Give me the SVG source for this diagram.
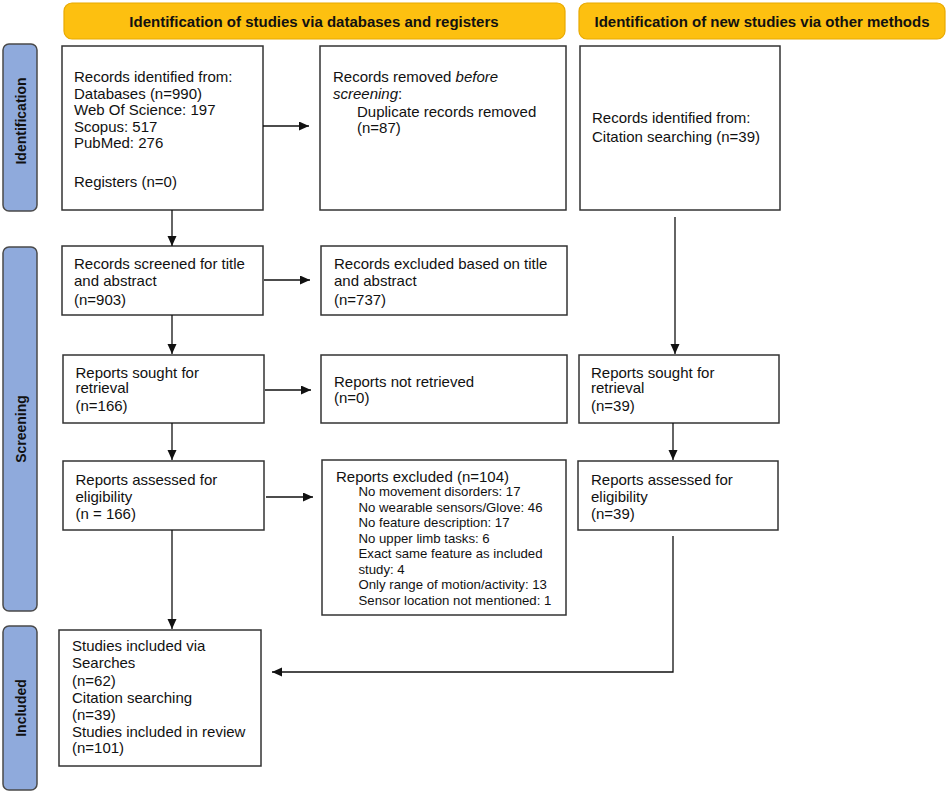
<svg xmlns="http://www.w3.org/2000/svg" width="948" height="792" viewBox="0 0 948 792">
<style>
.hdr{fill:#FDC010;stroke:#E8A900;stroke-width:1.2}
.side{fill:#8FAADC;stroke:#4A4A4A;stroke-width:1.5}
.box{fill:#FFFFFF;stroke:#333333;stroke-width:1.5}
.ht{font-family:"Liberation Sans",Arial,sans-serif;font-size:15px;font-weight:bold;fill:#111;text-anchor:middle}
.st{font-family:"Liberation Sans",Arial,sans-serif;font-size:14px;font-weight:bold;fill:#111;text-anchor:middle}
.t{font-family:"Liberation Sans",Arial,sans-serif;font-size:15px;fill:#111}
.s{font-family:"Liberation Sans",Arial,sans-serif;font-size:13.2px;fill:#111}
.c{fill:none;stroke:#111;stroke-width:1.3}
</style>
<defs>
<marker id="ah" markerUnits="userSpaceOnUse" markerWidth="11" markerHeight="10" refX="10" refY="4.5" orient="auto">
<path d="M0,0 L10,4.5 L0,9 z" fill="#111"/>
</marker>
</defs>
<rect width="948" height="792" fill="#FFFFFF"/>

<g id="header-databases">
<rect class="hdr" x="64" y="3" width="501" height="36" rx="8"/>
<text class="ht" x="314" y="27">Identification of studies via databases and registers</text>
</g>
<g id="header-other">
<rect class="hdr" x="579" y="3" width="366" height="36" rx="8"/>
<text class="ht" x="762" y="27">Identification of new studies via other methods</text>
</g>

<g id="phase-identification">
<rect class="side" x="3" y="44" width="34" height="167" rx="6"/>
<text class="st" transform="translate(26,121) rotate(-90)">Identification</text>
</g>
<g id="phase-screening">
<rect class="side" x="3" y="247" width="34" height="364" rx="6"/>
<text class="st" transform="translate(26,429) rotate(-90)">Screening</text>
</g>
<g id="phase-included">
<rect class="side" x="3" y="626" width="34" height="164" rx="6"/>
<text class="st" transform="translate(26,708) rotate(-90)">Included</text>
</g>

<g id="records-identified">
<rect class="box" x="62" y="46" width="201" height="164"/>
<text class="t" x="74" y="82">Records identified from:</text>
<text class="t" x="74" y="98.5">Databases (n=990)</text>
<text class="t" x="74" y="115">Web Of Science: 197</text>
<text class="t" x="74" y="131.5">Scopus: 517</text>
<text class="t" x="74" y="148">PubMed: 276</text>
<text class="t" x="74" y="187">Registers (n=0)</text>
</g>
<g id="records-removed">
<rect class="box" x="320" y="46" width="246" height="164"/>
<text class="t" x="333" y="82">Records removed <tspan font-style="italic">before</tspan></text>
<text class="t" x="333" y="99" font-style="italic">screening<tspan font-style="normal">:</tspan></text>
<text class="t" x="357" y="116.5">Duplicate records removed</text>
<text class="t" x="357" y="133">(n=87)</text>
</g>
<g id="citation-identified">
<rect class="box" x="580" y="46" width="200" height="164"/>
<text class="t" x="592" y="123">Records identified from:</text>
<text class="t" x="592" y="141.5">Citation searching (n=39)</text>
</g>

<g id="records-screened">
<rect class="box" x="62" y="246" width="201" height="69"/>
<text class="t" x="74" y="269">Records screened for title</text>
<text class="t" x="74" y="285.5">and abstract</text>
<text class="t" x="74" y="305">(n=903)</text>
</g>
<g id="records-excluded">
<rect class="box" x="321" y="246" width="246" height="69"/>
<text class="t" x="334" y="269">Records excluded based on title</text>
<text class="t" x="334" y="285.5">and abstract</text>
<text class="t" x="334" y="305">(n=737)</text>
</g>

<g id="reports-sought">
<rect class="box" x="63" y="355" width="201" height="68"/>
<text class="t" x="75.5" y="377.5">Reports sought for</text>
<text class="t" x="75.5" y="393">retrieval</text>
<text class="t" x="75.5" y="411">(n=166)</text>
</g>
<g id="reports-not-retrieved">
<rect class="box" x="321" y="355" width="246" height="68"/>
<text class="t" x="334" y="386.5">Reports not retrieved</text>
<text class="t" x="334" y="403">(n=0)</text>
</g>
<g id="reports-sought-other">
<rect class="box" x="579" y="355" width="200" height="68"/>
<text class="t" x="591" y="377.5">Reports sought for</text>
<text class="t" x="591" y="393">retrieval</text>
<text class="t" x="591" y="411">(n=39)</text>
</g>

<g id="reports-assessed">
<rect class="box" x="63" y="461" width="201" height="69"/>
<text class="t" x="75.5" y="485">Reports assessed for</text>
<text class="t" x="75.5" y="501.5">eligibility</text>
<text class="t" x="75.5" y="519">(n = 166)</text>
</g>
<g id="reports-excluded">
<rect class="box" x="322" y="460" width="244" height="155"/>
<text class="t" x="336" y="481.5">Reports excluded (n=104)</text>
<text class="s" x="358.5" y="496">No movement disorders: 17</text>
<text class="s" x="358.5" y="512">No wearable sensors/Glove: 46</text>
<text class="s" x="358.5" y="527">No feature description: 17</text>
<text class="s" x="358.5" y="543">No upper limb tasks: 6</text>
<text class="s" x="358.5" y="558">Exact same feature as included</text>
<text class="s" x="358.5" y="573.5">study: 4</text>
<text class="s" x="358.5" y="589">Only range of motion/activity: 13</text>
<text class="s" x="358.5" y="604.5">Sensor location not mentioned: 1</text>
</g>
<g id="reports-assessed-other">
<rect class="box" x="578" y="461" width="200" height="69"/>
<text class="t" x="591" y="485">Reports assessed for</text>
<text class="t" x="591" y="501.5">eligibility</text>
<text class="t" x="591" y="519">(n=39)</text>
</g>

<g id="studies-included">
<rect class="box" x="59" y="630" width="202" height="136"/>
<text class="t" x="72" y="651">Studies included via</text>
<text class="t" x="72" y="668">Searches</text>
<text class="t" x="72" y="685.5">(n=62)</text>
<text class="t" x="72" y="703">Citation searching</text>
<text class="t" x="72" y="720">(n=39)</text>
<text class="t" x="72" y="736.5">Studies included in review</text>
<text class="t" x="72" y="753">(n=101)</text>
</g>

<g id="connectors">
<path class="c" d="M263,126 H309" marker-end="url(#ah)"/>
<path class="c" d="M172,210 V246" marker-end="url(#ah)"/>
<path class="c" d="M675,217 V354" marker-end="url(#ah)"/>
<path class="c" d="M264,280 H310" marker-end="url(#ah)"/>
<path class="c" d="M172,315 V354" marker-end="url(#ah)"/>
<path class="c" d="M265,390 H311" marker-end="url(#ah)"/>
<path class="c" d="M172,423 V460" marker-end="url(#ah)"/>
<path class="c" d="M673,423 V460" marker-end="url(#ah)"/>
<path class="c" d="M266,497 H313" marker-end="url(#ah)"/>
<path class="c" d="M172,530 V629" marker-end="url(#ah)"/>
<path class="c" d="M673,536 V672 H272" marker-end="url(#ah)"/>
</g>
</svg>
